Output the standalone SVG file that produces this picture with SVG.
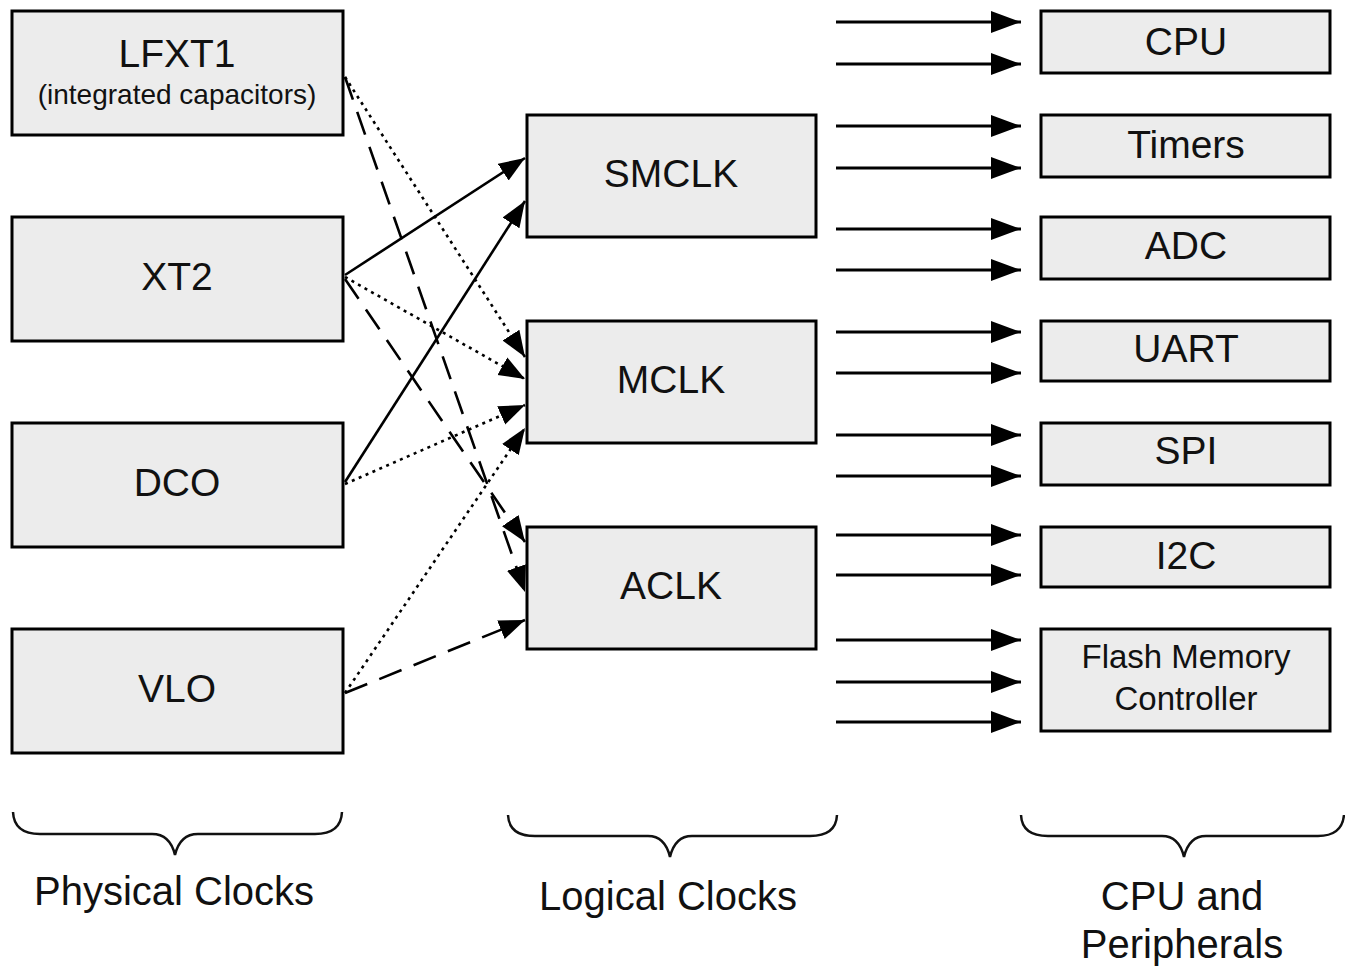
<svg xmlns="http://www.w3.org/2000/svg" width="1345" height="969" viewBox="0 0 1345 969">
  <style>
    .box { fill: #ececec; stroke: #000; stroke-width: 3; }
    .lbl { font-family: "Liberation Sans", Arial, sans-serif; font-size: 39px; fill: #111; text-anchor: middle; }
    .sub { font-size: 28px; }
    .mid { font-size: 33px; }
    .cap { font-size: 40px; }
    .wire { fill: none; stroke: #000; stroke-width: 2.6; }
    .dash { stroke-dasharray: 24 13; }
    .dot { stroke-dasharray: 3 4.5; }
    .out { fill: none; stroke: #000; stroke-width: 3; }
    .brace { fill: none; stroke: #111; stroke-width: 2.5; }
  </style>
  <defs>
    <marker id="head" markerUnits="userSpaceOnUse" markerWidth="27" markerHeight="22" viewBox="0 0 27 22" refX="26" refY="11" orient="auto">
      <path d="M0,1 L26,11 L0,21 Z" fill="#000" stroke="none"/>
    </marker>
    <marker id="headR" markerUnits="userSpaceOnUse" markerWidth="30" markerHeight="22" viewBox="0 0 30 22" refX="30" refY="11" orient="auto">
      <path d="M0,0 L30,11 L0,22 Z" fill="#000" stroke="none"/>
    </marker>
  </defs>

  <rect width="1345" height="969" fill="#fff"/>

  <!-- physical clock sources -->
  <g id="lfxt1"><rect class="box" x="12" y="11" width="331" height="124"/>
    <text class="lbl" x="177" y="67">LFXT1</text>
    <text class="lbl sub" x="177" y="104">(integrated capacitors)</text></g>
  <g id="xt2"><rect class="box" x="12" y="217" width="331" height="124"/>
    <text class="lbl" x="177" y="290">XT2</text></g>
  <g id="dco"><rect class="box" x="12" y="423" width="331" height="124"/>
    <text class="lbl" x="177" y="496">DCO</text></g>
  <g id="vlo"><rect class="box" x="12" y="629" width="331" height="124"/>
    <text class="lbl" x="177" y="702">VLO</text></g>

  <!-- logical clocks -->
  <g id="smclk"><rect class="box" x="527" y="115" width="289" height="122"/>
    <text class="lbl" x="671" y="187">SMCLK</text></g>
  <g id="mclk"><rect class="box" x="527" y="321" width="289" height="122"/>
    <text class="lbl" x="671" y="393">MCLK</text></g>
  <g id="aclk"><rect class="box" x="527" y="527" width="289" height="122"/>
    <text class="lbl" x="671" y="599">ACLK</text></g>

  <!-- CPU and peripherals -->
  <g id="cpu"><rect class="box" x="1041" y="11" width="289" height="62"/>
    <text class="lbl" x="1186" y="55">CPU</text></g>
  <g id="timers"><rect class="box" x="1041" y="115" width="289" height="62"/>
    <text class="lbl" x="1186" y="158">Timers</text></g>
  <g id="adc"><rect class="box" x="1041" y="217" width="289" height="62"/>
    <text class="lbl" x="1186" y="259">ADC</text></g>
  <g id="uart"><rect class="box" x="1041" y="321" width="289" height="60"/>
    <text class="lbl" x="1186" y="362">UART</text></g>
  <g id="spi"><rect class="box" x="1041" y="423" width="289" height="62"/>
    <text class="lbl" x="1186" y="464">SPI</text></g>
  <g id="i2c"><rect class="box" x="1041" y="527" width="289" height="60"/>
    <text class="lbl" x="1186" y="569">I2C</text></g>
  <g id="flash"><rect class="box" x="1041" y="629" width="289" height="102"/>
    <text class="lbl mid" x="1186" y="668">Flash Memory</text>
    <text class="lbl mid" x="1186" y="710">Controller</text></g>

  <!-- clock routing -->
  <g id="connectors">
    <path class="wire dot" d="M345,77 L525,357" marker-end="url(#head)"/>
    <path class="wire dash" d="M345,77 L525,592" marker-end="url(#head)"/>
    <path class="wire" d="M345,275 L525,158" marker-end="url(#head)"/>
    <path class="wire dot" d="M345,277 L525,379" marker-end="url(#head)"/>
    <path class="wire dash" d="M345,279 L525,542" marker-end="url(#head)"/>
    <path class="wire" d="M345,482 L525,201" marker-end="url(#head)"/>
    <path class="wire dot" d="M345,484 L525,405" marker-end="url(#head)"/>
    <path class="wire dot" d="M345,693 L525,428" marker-end="url(#head)"/>
    <path class="wire dash" d="M345,693 L525,620" marker-end="url(#head)"/>

    <path class="out" d="M836,22 H1021" marker-end="url(#headR)"/>
    <path class="out" d="M836,64 H1021" marker-end="url(#headR)"/>
    <path class="out" d="M836,126 H1021" marker-end="url(#headR)"/>
    <path class="out" d="M836,168 H1021" marker-end="url(#headR)"/>
    <path class="out" d="M836,229 H1021" marker-end="url(#headR)"/>
    <path class="out" d="M836,270 H1021" marker-end="url(#headR)"/>
    <path class="out" d="M836,332 H1021" marker-end="url(#headR)"/>
    <path class="out" d="M836,373 H1021" marker-end="url(#headR)"/>
    <path class="out" d="M836,435 H1021" marker-end="url(#headR)"/>
    <path class="out" d="M836,476 H1021" marker-end="url(#headR)"/>
    <path class="out" d="M836,535 H1021" marker-end="url(#headR)"/>
    <path class="out" d="M836,575 H1021" marker-end="url(#headR)"/>
    <path class="out" d="M836,640 H1021" marker-end="url(#headR)"/>
    <path class="out" d="M836,682 H1021" marker-end="url(#headR)"/>
    <path class="out" d="M836,722 H1021" marker-end="url(#headR)"/>
  </g>

  <!-- group braces and captions -->
  <g id="physical-brace">
    <path class="brace" d="M13,812 Q14,834 40,834 L152,834 Q170,834 175,855 Q180,834 198,834 L315,834 Q341,834 342,812"/>
    <text class="lbl cap" x="174" y="905">Physical Clocks</text>
  </g>
  <g id="logical-brace">
    <path class="brace" d="M508,815 Q509,836 535,836 L648,836 Q665,836 670,857 Q675,836 692,836 L810,836 Q836,836 837,815"/>
    <text class="lbl cap" x="668" y="910">Logical Clocks</text>
  </g>
  <g id="peripheral-brace">
    <path class="brace" d="M1021,815 Q1022,836 1048,836 L1162,836 Q1179,836 1184,857 Q1189,836 1206,836 L1318,836 Q1342,836 1344,815"/>
    <text class="lbl cap" x="1182" y="910">CPU and</text>
    <text class="lbl cap" x="1182" y="958">Peripherals</text>
  </g>
</svg>
